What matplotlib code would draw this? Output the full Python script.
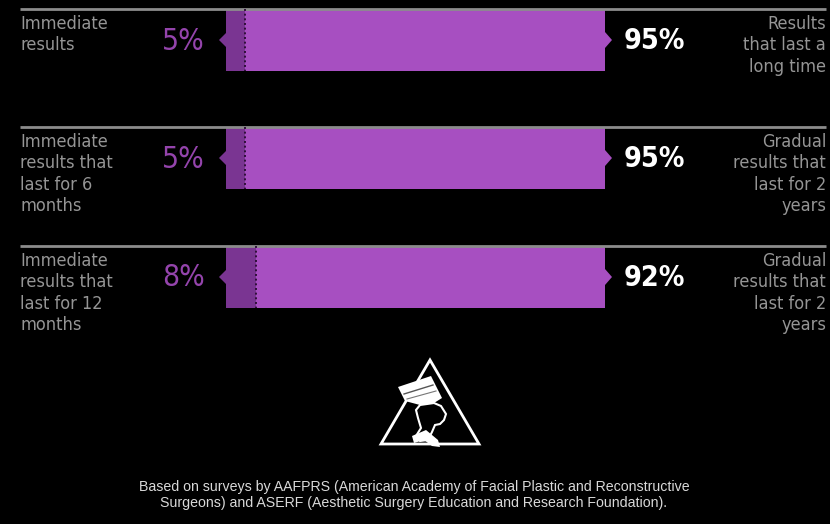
import matplotlib.pyplot as plt
from matplotlib.patches import Polygon

# survey results, one row per question
left_labels = ["Immediate\nresults",
               "Immediate\nresults that\nlast for 6\nmonths",
               "Immediate\nresults that\nlast for 12\nmonths"]
right_labels = ["Results\nthat last a\nlong time",
                "Gradual\nresults that\nlast for 2\nyears",
                "Gradual\nresults that\nlast for 2\nyears"]
left_pct = [5, 5, 8]
right_pct = [95, 95, 92]
footnote = ("Based on surveys by AAFPRS (American Academy of Facial Plastic and Reconstructive\n"
            "Surgeons) and ASERF (Aesthetic Surgery Education and Research Foundation).")

BG = "black"
PURPLE = "#a74fc1"
DARK = "#7a3592"
PCT_PURPLE = "#9444ac"
GREY = "#959595"
LINE = "#8c8c8c"
narrow = dict(family="DejaVu Sans", fontstretch="condensed")

fig = plt.figure(figsize=(8.3, 5.24), dpi=100, facecolor=BG)
ax = fig.add_axes([0, 0, 1, 1])
ax.set_facecolor(BG)
ax.set_xlim(0, 830)
ax.set_ylim(524, 0)
ax.axis("off")

x0, scale = 226, 3.79          # bar start and pixels per percent
row_top = [9, 127, 246]
bar_h = 62

for i in range(3):
    top = row_top[i]
    yc = top + bar_h / 2
    ax.plot([20, 826], [top, top], color=LINE, lw=2, solid_capstyle="butt")
    # two-part bar
    ax.barh(yc, left_pct[i] * scale, left=x0, height=bar_h, color=DARK)
    split = x0 + left_pct[i] * scale
    end = split + right_pct[i] * scale
    ax.barh(yc, right_pct[i] * scale, left=split, height=bar_h, color=PURPLE)
    ax.plot([split, split], [top, top + bar_h], color="#2e0f38", lw=1.4,
            ls=(0, (1, 1.4)))
    # small notches at each end
    ax.add_patch(Polygon([[x0, yc - 7], [x0 - 7, yc], [x0, yc + 7]], color=DARK, lw=0))
    ax.add_patch(Polygon([[end, yc - 8], [end + 7, yc], [end, yc + 8]], color=PURPLE, lw=0))

    ax.text(20, top + 6, left_labels[i], color=GREY, fontsize=13, va="top", ha="left",
            linespacing=1.24, **narrow)
    ax.text(826, top + 6, right_labels[i], color=GREY, fontsize=13, va="top", ha="right",
            linespacing=1.24, **narrow)
    ax.text(205, yc + 1, f"{left_pct[i]}%", color=PCT_PURPLE, fontsize=21.5, va="center",
            ha="right", **narrow)
    ax.text(624, yc + 1, f"{right_pct[i]}%", color="white", fontsize=20.5, fontweight="bold",
            va="center", ha="left", **narrow)

# logo: triangle with a stylised bust
ax.add_patch(Polygon([[430, 360], [381, 444], [479, 444]], closed=True, fill=False,
                     ec="white", lw=2))
ax.add_patch(Polygon([[398, 387], [431, 376], [442, 398], [434, 403], [420, 405], [405, 401]],
                     color="white", lw=0))
ax.plot([404, 433], [394, 385], color="#555555", lw=1)
ax.plot([407, 436], [399, 391], color="#777777", lw=0.8)
ax.add_patch(Polygon([[420, 405], [434, 403], [441, 406], [446, 414], [444, 420], [440, 424],
                      [435, 425], [432, 432], [428, 440], [420, 441], [416, 436], [421, 428],
                      [418, 418], [416, 410]],
                     closed=True, fill=False, ec="white", lw=1.5))
ax.add_patch(Polygon([[412, 436], [426, 430], [438, 440], [440, 447], [432, 446], [424, 440],
                      [414, 443]], color="white", lw=0))

ax.text(414, 495, footnote, color="#d9d9d9", fontsize=10.2, family="Liberation Sans",
        ha="center", va="center", linespacing=1.25)

fig.savefig("out.png", dpi=100, facecolor=BG)
